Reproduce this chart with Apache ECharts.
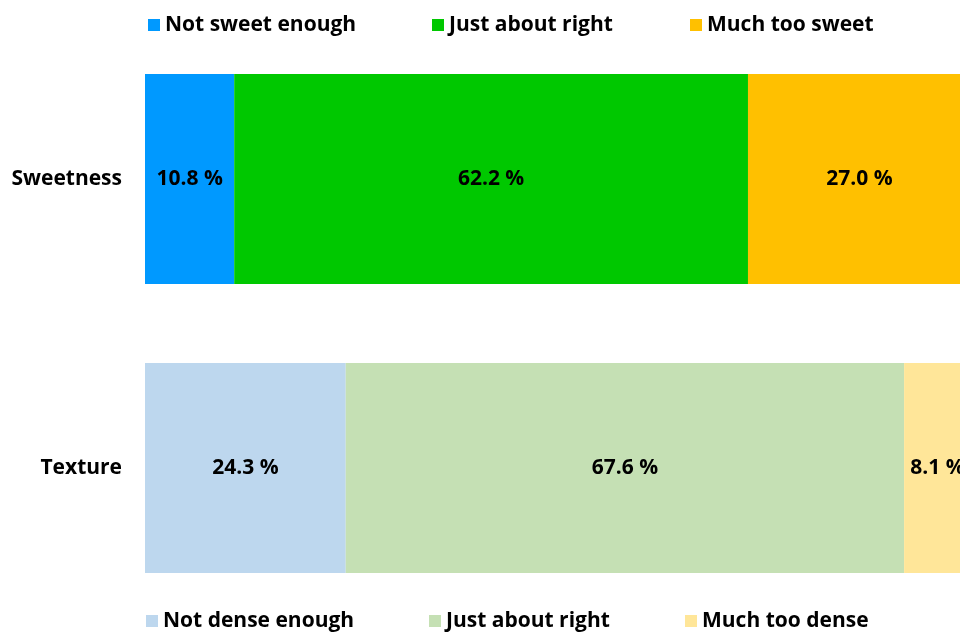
<!DOCTYPE html>
<html>
<head>
<meta charset="utf-8">
<script src="https://cdn.jsdelivr.net/npm/echarts@6/dist/echarts.min.js"></script>
<style>
  html, body { margin: 0; padding: 0; background: #fff; overflow: hidden; }
  /* the plot area runs a little past the right edge of the window */
  #chart { width: 971px; height: 633px; }
</style>
</head>
<body>
<div id="chart"></div>
<script>
// Attributes rated by the panel
const categories = ['Sweetness', 'Texture'];

// Sweetness responses (%)
const sweetNames = ['Not sweet enough', 'Just about right', 'Much too sweet'];
const sweetValues = [10.8, 62.2, 27.0];
const sweetColors = ['#0099FF', '#00C800', '#FFC000'];

// Texture responses (%)
const textureNames = ['Not dense enough', 'Just about right ', 'Much too dense'];
const textureValues = [24.3, 67.6, 8.1];
const textureColors = ['#BDD7EE', '#C5E0B4', '#FFE699'];

const FONT = 'Open Sans';

function makeSeries(names, values, colors, rowIndex) {
  return names.map((name, i) => {
    const data = categories.map((c, r) => (r === rowIndex ? values[i] : '-'));
    return {
      name: name,
      type: 'bar',
      stack: 'total',
      barWidth: 210,
      itemStyle: { color: colors[i] },
      label: {
        show: true,
        position: 'inside',
        color: '#000',
        fontFamily: FONT,
        fontWeight: 'bold',
        fontSize: 21,
        formatter: p => p.value.toFixed(1) + ' %'
      },
      emphasis: { disabled: true },
      data: data
    };
  });
}

// One legend block per item so each entry sits at its own column
function makeLegend(name, left, top) {
  return {
    data: [name],
    left: left,
    top: top,
    itemWidth: 12,
    itemHeight: 12,
    icon: 'rect',
    itemGap: 0,
    padding: 0,
    selectedMode: false,
    textStyle: { fontFamily: FONT, fontWeight: 'bold', fontSize: 21, color: '#000', lineHeight: 24 }
  };
}

const legendTopCols = [148, 432, 690];
const legendBottomCols = [146, 429, 685];

const option = {
  animation: false,
  backgroundColor: '#fff',
  legend: [
    ...sweetNames.map((n, i) => makeLegend(n, legendTopCols[i], 13)),
    ...textureNames.map((n, i) => makeLegend(n, legendBottomCols[i], 609))
  ],
  grid: { left: 145, top: 34.5, right: 0, bottom: 20.5 },
  xAxis: {
    type: 'value',
    min: 0,
    max: 100,
    show: false
  },
  yAxis: {
    type: 'category',
    data: categories,
    inverse: true,
    axisLine: { show: false },
    axisTick: { show: false },
    axisLabel: {
      margin: 23,
      color: '#000',
      fontFamily: FONT,
      fontWeight: 'bold',
      fontSize: 21
    }
  },
  series: [
    ...makeSeries(sweetNames, sweetValues, sweetColors, 0),
    ...makeSeries(textureNames, textureValues, textureColors, 1)
  ]
};

const chart = echarts.init(document.getElementById('chart'), null, { renderer: 'canvas' });
chart.setOption(option);
</script>
</body>
</html>
